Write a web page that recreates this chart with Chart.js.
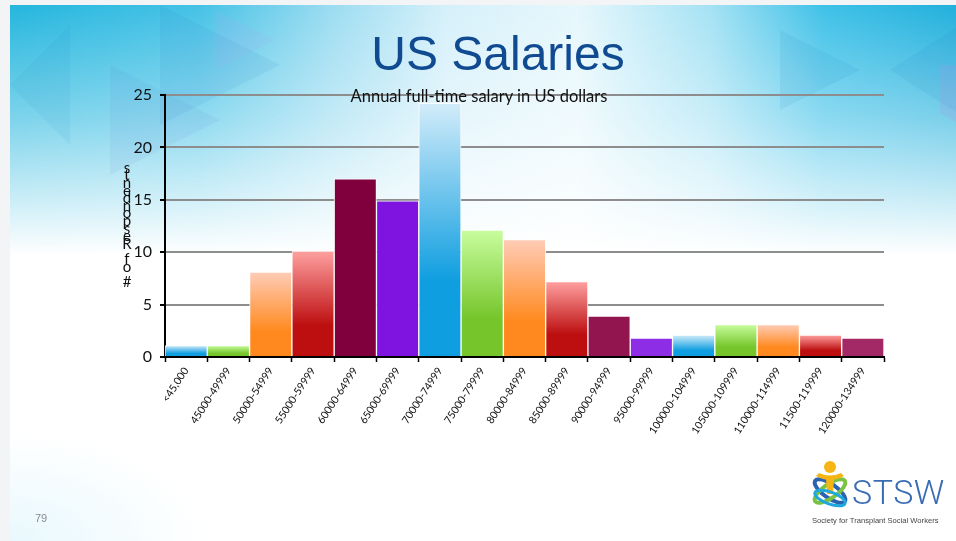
<!DOCTYPE html>
<html>
<head>
<meta charset="utf-8">
<script src="https://cdn.jsdelivr.net/npm/chart.js@4.4.1/dist/chart.umd.min.js"></script>
<style>
  html, body { margin: 0; padding: 0; }
  body { width: 956px; height: 541px; background: #f2f4f6; position: relative; overflow: hidden; font-family: Lato, "Liberation Sans", sans-serif; }
  .slide { position: absolute; left: 10px; top: 5px; width: 946px; height: 536px; background: #fff; overflow: hidden; }
  .header { position: absolute; left: 0; top: 0; width: 946px; height: 250px;
    background:
      linear-gradient(to bottom, rgba(255,255,255,0) 0%, rgba(255,255,255,0.4) 45%, #fff 100%),
      linear-gradient(to right, #25b6de 0%, #45c2e6 20%, #9bdcf1 34%, #d5f0fa 46%, #e6f7fc 60%, #a5e2f4 74%, #3fc1e8 86%, #22b0dc 100%); }
  .tri { position: absolute; }
  .bottomglow { position: absolute; left: 0; bottom: 0; width: 200px; height: 110px;
    background: radial-gradient(ellipse at 0% 100%, rgba(210,242,252,0.5), rgba(255,255,255,0) 70%); }
  #chart { position: absolute; left: 0; top: 0; }
  .title { position: absolute; left: 0; width: 956px; top: 26px; text-align: center; padding-left: 40px; box-sizing: border-box;
    font-family: "Liberation Sans", Arial, sans-serif; font-size: 48px; color: #104b92; }
  .subtitle { position: absolute; left: 279px; width: 400px; top: 86px; text-align: center;
    font-family: Lato, sans-serif; font-size: 16.5px; color: #111; }
  .page { position: absolute; left: 35px; top: 512px; font-family: "Liberation Sans", sans-serif; font-size: 11px; color: #8a8a8a; }
  .logo { position: absolute; left: 808px; top: 458px; width: 145px; height: 75px; }
  .stsw { position: absolute; left: 44px; top: 14px; font-family: Roboto, "Liberation Sans", sans-serif; font-weight: 300; font-size: 34px; color: #3a6cb4; letter-spacing: 0.5px; }
  .society { position: absolute; left: 4px; top: 58px; font-family: "Liberation Sans", sans-serif; font-size: 7.6px; color: #444; white-space: nowrap; }
</style>
</head>
<body>
<div class="slide">
  <div class="header"></div>
  <div class="tri" style="left:150px;top:0;width:120px;height:120px;background:rgba(40,120,200,0.09);clip-path:polygon(0 0,100% 50%,0 100%);"></div>
  <div class="tri" style="left:100px;top:60px;width:110px;height:110px;background:rgba(90,110,200,0.08);clip-path:polygon(0 0,100% 50%,0 100%);"></div>
  <div class="tri" style="left:205px;top:5px;width:60px;height:60px;background:rgba(170,170,240,0.15);clip-path:polygon(0 0,100% 50%,0 100%);"></div>
  <div class="tri" style="left:0;top:20px;width:60px;height:120px;background:rgba(20,140,190,0.08);clip-path:polygon(0 50%,100% 0,100% 100%);"></div>
  <div class="tri" style="left:770px;top:25px;width:80px;height:80px;background:rgba(30,140,200,0.1);clip-path:polygon(0 0,100% 50%,0 100%);"></div>
  <div class="tri" style="left:880px;top:20px;width:70px;height:90px;background:rgba(20,120,190,0.08);clip-path:polygon(0 50%,100% 0,100% 100%);"></div>
  <div class="tri" style="left:930px;top:60px;width:20px;height:60px;background:rgba(170,150,230,0.2);clip-path:polygon(0 0,100% 0,100% 100%,0 80%);"></div>
  <div class="bottomglow"></div>
</div>
<canvas id="chart" width="956" height="541"></canvas>
<div class="title">US Salaries</div>
<div class="subtitle">Annual full-time salary in US dollars</div>
<div class="page">79</div>
<div class="logo">
  <svg width="44" height="52" viewBox="0 0 44 52" style="position:absolute;left:0;top:0">
    <ellipse cx="22" cy="33" rx="18" ry="7" fill="none" stroke="#2a63b0" stroke-width="4" transform="rotate(35 22 33)"/>
    <ellipse cx="22" cy="33" rx="18" ry="7" fill="none" stroke="#7cc242" stroke-width="4" transform="rotate(-35 22 33)"/>
    <path d="M8 18 Q22 26 36 18 L33 15 Q22 20 11 15 Z" fill="#f7b515"/>
    <path d="M18 20 L26 20 L25 36 L19 36 Z" fill="#f7b515"/>
    <circle cx="22" cy="9" r="6" fill="#f7b515"/>
    <ellipse cx="22" cy="40" rx="16" ry="6" fill="none" stroke="#1fa8e0" stroke-width="3" transform="rotate(20 22 40)"/>
  </svg>
  <div class="stsw">STSW</div>
  <div class="society">Society for Transplant Social Workers</div>
</div>

<script>
  // salary bands and number of respondents in each
  const salaryBands = ['<45,000', '45000-49999', '50000-54999', '55000-59999', '60000-64999', '65000-69999',
    '70000-74999', '75000-79999', '80000-84999', '85000-89999', '90000-94999', '95000-99999',
    '100000-104999', '105000-109999', '110000-114999', '11500-119999', '120000-134999'];
  const respondents = [1.1, 1.1, 8.1, 10.1, 17, 14.9, 24.2, 12.1, 11.2, 7.2, 3.9, 1.8, 2.1, 3.1, 3.1, 2.1, 1.8];
  const yTicks = [0, 5, 10, 15, 20, 25];
  const yAxisLabel = '# of Respondents';

  // bar fills, light = top of gradient, dark = bottom
  const blue = { light: '#d2ecfa', dark: '#0f9ee0' };
  const green = { light: '#c8fd9e', dark: '#76c52b' };
  const orange = { light: '#ffccb7', dark: '#ff891e' };
  const red = { light: '#ffa0a0', dark: '#bd0f10' };
  const barFills = [blue, green, orange, red, { dark: '#80003e' }, { dark: '#7f14e0' },
    blue, green, orange, red, { dark: '#921550' }, { dark: '#8e2de6' },
    blue, green, orange, red, { dark: '#a22866' }];

  function barFill(context) {
    const fill = barFills[context.dataIndex] || blue;
    if (!fill.light) return fill.dark;
    const yScale = context.chart.scales.y;
    if (context.type !== 'data' || !yScale) return fill.dark;
    const top = yScale.getPixelForValue(context.raw);
    const base = yScale.getPixelForValue(0);
    if (!Number.isFinite(top) || !Number.isFinite(base)) return fill.dark;
    const g = context.chart.ctx.createLinearGradient(0, top, 0, base);
    g.addColorStop(0, fill.light);
    g.addColorStop(0.7, fill.dark);
    g.addColorStop(1, fill.dark);
    return g;
  }

  // stacked-letter axis label, as on the slide
  const stackedLabel = {
    id: 'stackedLabel',
    afterDraw(chart) {
      const ctx = chart.ctx;
      const chars = yAxisLabel.split('').reverse();
      ctx.save();
      ctx.font = '15px Lato, sans-serif';
      ctx.fillStyle = '#111';
      ctx.textAlign = 'center';
      ctx.textBaseline = 'middle';
      chars.forEach((ch, i) => ctx.fillText(ch, 127, 168 + i * 7.6));
      ctx.restore();
    }
  };

  new Chart(document.getElementById('chart'), {
    type: 'bar',
    data: {
      labels: salaryBands,
      datasets: [{
        label: yAxisLabel,
        data: respondents,
        backgroundColor: barFill,
        borderColor: 'rgba(255,255,255,0.9)',
        borderWidth: 1,
        barPercentage: 1,
        categoryPercentage: 1,
      }],
    },
    options: {
      responsive: false,
      animation: false,
      layout: { padding: { left: 120, top: 95, right: 72, bottom: 84 } },
      plugins: { legend: { display: false }, tooltip: { enabled: false } },
      scales: {
        x: {
          afterFit(scale) { scale.height = 100; },
          grid: { drawOnChartArea: false, tickColor: '#000', tickLength: 5, tickWidth: 1.5 },
          border: { color: '#000', width: 2 },
          ticks: { color: '#111', font: { family: 'Lato', size: 10.5 }, minRotation: 57, maxRotation: 57, padding: 3, autoSkip: false },
        },
        y: {
          min: 0,
          max: 25,
          afterFit(scale) { scale.width = 45; },
          afterBuildTicks(scale) { scale.ticks = yTicks.map(v => ({ value: v })); },
          grid: { color: '#8d8d8d', lineWidth: 2, tickColor: '#000', tickLength: 5 },
          border: { color: '#000', width: 2 },
          ticks: { color: '#111', font: { family: 'Lato', size: 16 }, padding: 8 },
        },
      },
    },
    plugins: [stackedLabel],
  });
</script>
</body>
</html>
